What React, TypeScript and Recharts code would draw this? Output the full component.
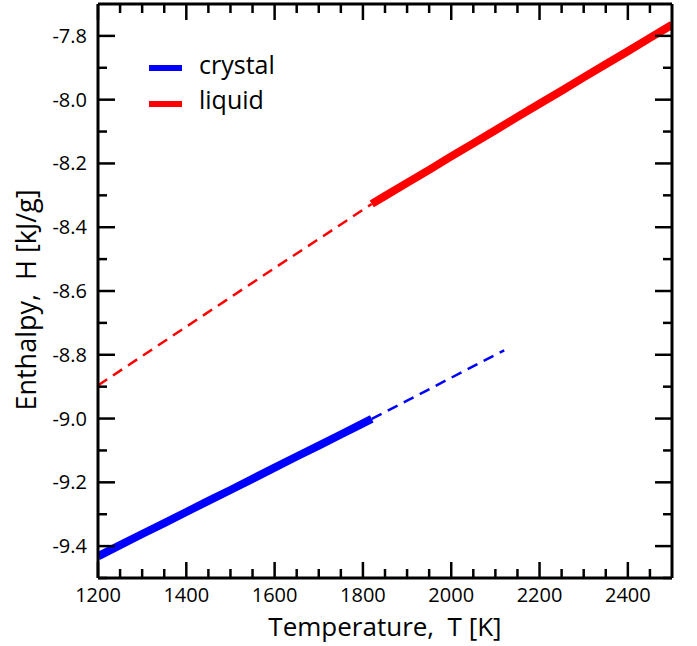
import React from "react";
import { LineChart, Line, XAxis, YAxis, Legend } from "recharts";

// temperature [K] / enthalpy [kJ/g]
const crystalT = [1200, 1250, 1300, 1350, 1400, 1450, 1500, 1550, 1600, 1650, 1700, 1750, 1800, 1820];
const crystalH = [-9.432, -9.397, -9.362, -9.328, -9.293, -9.258, -9.224, -9.189, -9.154, -9.119, -9.085, -9.05, -9.015, -9.001];

const crystalExtT = [1820, 1900, 2000, 2120];
const crystalExtH = [-9.001, -8.944, -8.872, -8.786];

const liquidT = [1820, 1850, 1900, 1950, 2000, 2050, 2100, 2150, 2200, 2250, 2300, 2350, 2400, 2450, 2500];
const liquidH = [-8.327, -8.302, -8.261, -8.22, -8.178, -8.137, -8.096, -8.054, -8.013, -7.972, -7.93, -7.889, -7.848, -7.806, -7.765];

const liquidExtT = [1200, 1300, 1400, 1500, 1600, 1700, 1820];
const liquidExtH = [-8.896, -8.804, -8.712, -8.62, -8.528, -8.437, -8.327];

const xTicks = [1200, 1250, 1300, 1350, 1400, 1450, 1500, 1550, 1600, 1650, 1700, 1750, 1800, 1850, 1900, 1950, 2000, 2050, 2100, 2150, 2200, 2250, 2300, 2350, 2400, 2450];
const xMajor = [1200, 1400, 1600, 1800, 2000, 2200, 2400];
const yTicks = [-9.5, -9.4, -9.3, -9.2, -9.1, -9.0, -8.9, -8.8, -8.7, -8.6, -8.5, -8.4, -8.3, -8.2, -8.1, -8.0, -7.9, -7.8];
const yMajor = [-9.4, -9.2, -9.0, -8.8, -8.6, -8.4, -8.2, -8.0, -7.8];

const legendItems = [
    { name: "crystal", color: "#0000ff" },
    { name: "liquid", color: "#ff0000" },
];

const FONT = "'Open Sans', sans-serif";

const toRows = (ts: number[], hs: number[]) => ts.map((t, i) => ({ t, h: hs[i] }));

const isMajor = (list: number[], v: number) => list.some(m => Math.abs(m - v) < 1e-6);

const XTick = (props: any) => {
    const { x, y, payload, dir, showLabel } = props;
    const major = isMajor(xMajor, payload.value);
    const len = major ? 16 : 9;
    return (
        <g>
            <line x1={x} x2={x} y1={y} y2={y + dir * len} stroke="#000" strokeWidth={2.5} />
            {showLabel && major &&
                <text x={x} y={y + 24} textAnchor="middle" fontSize={20} fontFamily={FONT} fill="#000">{payload.value}</text>}
        </g>
    );
}

const YTick = (props: any) => {
    const { x, y, payload, dir, showLabel } = props;
    const major = isMajor(yMajor, payload.value);
    const len = major ? 17 : 9;
    return (
        <g>
            <line x1={x} x2={x + dir * len} y1={y} y2={y} stroke="#000" strokeWidth={2.5} />
            {showLabel && major &&
                <text x={x - 11} y={y + 7} textAnchor="end" fontSize={20} fontFamily={FONT} fill="#000">{payload.value.toFixed(1)}</text>}
        </g>
    );
}

const XLabel = (props: any) => {
    const { x, y, width } = props.viewBox;
    return <text x={x + width / 2} y={y + 58} textAnchor="middle" fontSize={26} fontFamily={FONT} fill="#000" style={{ whiteSpace: "pre" }}>{"Temperature,  T [K]"}</text>;
}

const YLabel = (props: any) => {
    const { y, height } = props.viewBox;
    const cx = 36;
    const cy = y + height / 2 + 9;
    return <text x={cx} y={cy} transform={`rotate(-90 ${cx} ${cy})`} textAnchor="middle" fontSize={27} fontFamily={FONT} fill="#000" style={{ whiteSpace: "pre" }}>{"Enthalpy,  H [kJ/g]"}</text>;
}

const LegendBox = () => (
    <svg width={200} height={90} style={{ overflow: "visible" }}>
        {legendItems.map((item, i) => (
            <g key={item.name}>
                <line x1={0} x2={33} y1={18 + i * 36} y2={18 + i * 36} stroke={item.color} strokeWidth={6} />
                <text x={50} y={24 + i * 35} fontSize={25} fontFamily={FONT} fill="#000">{item.name}</text>
            </g>
        ))}
    </svg>
);

const App: React.FC = () => {
    const axisLine = { stroke: "#000", strokeWidth: 3 };
    return (
        <div style={{ position: "absolute", left: 0, top: 0 }}>
            <LineChart width={697} height={646} margin={{ top: 3, right: 24, bottom: 0, left: 0 }}>
                <XAxis xAxisId={0} dataKey="t" type="number" domain={[1200, 2500]} ticks={xTicks} interval={0}
                    height={68} tickSize={0} tickMargin={0} tickLine={false} axisLine={axisLine}
                    tick={<XTick dir={-1} showLabel />} label={<XLabel />} allowDataOverflow />
                <XAxis xAxisId="top" orientation="top" dataKey="t" type="number" domain={[1200, 2500]} ticks={xTicks} interval={0}
                    height={1} tickSize={0} tickMargin={0} tickLine={false} axisLine={axisLine}
                    tick={<XTick dir={1} showLabel={false} />} allowDataOverflow />
                <YAxis yAxisId={0} type="number" domain={[-9.5, -7.7]} ticks={yTicks} interval={0}
                    width={98} tickSize={0} tickMargin={0} tickLine={false} axisLine={axisLine}
                    tick={<YTick dir={1} showLabel />} label={<YLabel />} allowDataOverflow />
                <YAxis yAxisId="right" orientation="right" type="number" domain={[-9.5, -7.7]} ticks={yTicks} interval={0}
                    width={1} tickSize={0} tickMargin={0} tickLine={false} axisLine={axisLine}
                    tick={<YTick dir={-1} showLabel={false} />} allowDataOverflow />
                <Legend layout="vertical" align="center" verticalAlign="middle"
                    wrapperStyle={{ left: 149, top: 50, width: 200, height: 90 }} content={<LegendBox />} />
                <Line data={toRows(liquidExtT, liquidExtH)} dataKey="h" type="linear" stroke="#ff0000" strokeWidth={2.5}
                    strokeDasharray="11 7" dot={false} isAnimationActive={false} legendType="none" />
                <Line data={toRows(crystalExtT, crystalExtH)} dataKey="h" type="linear" stroke="#0000ff" strokeWidth={2.5}
                    strokeDasharray="11 7" dot={false} isAnimationActive={false} legendType="none" />
                <Line data={toRows(crystalT, crystalH)} dataKey="h" type="linear" stroke="#0000ff" strokeWidth={8}
                    dot={false} isAnimationActive={false} />
                <Line data={toRows(liquidT, liquidH)} dataKey="h" type="linear" stroke="#ff0000" strokeWidth={8}
                    dot={false} isAnimationActive={false} />
            </LineChart>
        </div>
    );
}

export default App;
